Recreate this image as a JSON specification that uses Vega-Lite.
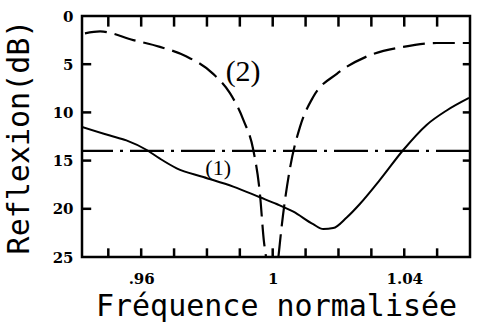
{
  "$schema": "https://vega.github.io/schema/vega-lite/v6.json",
  "width": 388,
  "height": 241,
  "autosize": "none",
  "padding": {"left": 82, "top": 16, "right": 31, "bottom": 70},
  "background": "white",
  "config": {
    "view": {"stroke": "black", "strokeWidth": 2.5},
    "axis": {
      "grid": false,
      "domain": false,
      "ticks": false,
      "labelColor": "black",
      "labelFont": "DejaVu Serif",
      "labelFontWeight": "bold",
      "labelFontSize": 15,
      "labelOverlap": false,
      "titleColor": "black",
      "titleFont": "DejaVu Sans Mono",
      "titleFontWeight": "normal",
      "titleFontSize": 30
    }
  },
  "datasets": {
    "curve1": [
      {"f": 0.942, "db": 11.5},
      {"f": 0.9505, "db": 12.4},
      {"f": 0.9555, "db": 12.9},
      {"f": 0.9617, "db": 13.9},
      {"f": 0.9657, "db": 14.8},
      {"f": 0.9708, "db": 15.8},
      {"f": 0.9789, "db": 16.7},
      {"f": 0.988, "db": 17.7},
      {"f": 0.9961, "db": 18.8},
      {"f": 1.0012, "db": 19.5},
      {"f": 1.0063, "db": 20.3},
      {"f": 1.0123, "db": 21.6},
      {"f": 1.0154, "db": 22.1},
      {"f": 1.0184, "db": 22.0},
      {"f": 1.0225, "db": 20.9},
      {"f": 1.0265, "db": 19.5},
      {"f": 1.0326, "db": 17.0},
      {"f": 1.0397, "db": 13.9},
      {"f": 1.0468, "db": 11.3},
      {"f": 1.0529, "db": 9.8},
      {"f": 1.0597, "db": 8.5}
    ],
    "curve2": [
      {"f": 0.9429, "db": 1.8},
      {"f": 0.9475, "db": 1.6},
      {"f": 0.9576, "db": 2.5},
      {"f": 0.9657, "db": 3.2},
      {"f": 0.9738, "db": 4.2},
      {"f": 0.9819, "db": 6.0},
      {"f": 0.987, "db": 8.0},
      {"f": 0.9911, "db": 10.8},
      {"f": 0.9941, "db": 13.9},
      {"f": 0.9961, "db": 18.4},
      {"f": 0.9973, "db": 23.3},
      {"f": 0.998, "db": 25.1},
      {"f": 0.9997, "db": 31.0},
      {"f": 1.0017, "db": 25.1},
      {"f": 1.0027, "db": 21.9},
      {"f": 1.0053, "db": 15.7},
      {"f": 1.0083, "db": 11.5},
      {"f": 1.0123, "db": 8.4},
      {"f": 1.0195, "db": 6.0},
      {"f": 1.0286, "db": 4.2},
      {"f": 1.0397, "db": 3.2},
      {"f": 1.0499, "db": 2.8},
      {"f": 1.0597, "db": 2.8}
    ],
    "threshold": [{"db": 14}],
    "freqTicks": [
      {"f": 0.95}, {"f": 0.96}, {"f": 0.97}, {"f": 0.98}, {"f": 0.99}, {"f": 1.0},
      {"f": 1.01}, {"f": 1.02}, {"f": 1.03}, {"f": 1.04}, {"f": 1.05}
    ],
    "dbTicks": [{"db": 5}, {"db": 10}, {"db": 15}, {"db": 20}],
    "tags": [
      {"f": 0.991, "db": 5.8, "tag": "(2)", "size": 30},
      {"f": 0.9834, "db": 15.8, "tag": "(1)", "size": 22}
    ]
  },
  "layer": [
    {
      "data": {"name": "curve1"},
      "mark": {"type": "line", "color": "black", "strokeWidth": 2, "interpolate": "monotone", "clip": true},
      "encoding": {
        "x": {
          "field": "f",
          "type": "quantitative",
          "scale": {"domain": [0.942, 1.06], "nice": false, "zero": false},
          "axis": {
            "title": "Fréquence normalisée",
            "values": [0.96, 1.0, 1.04],
            "labelExpr": "abs(datum.value - 0.96) < 1e-6 ? '.96' : abs(datum.value - 1) < 1e-6 ? '1' : '1.04'",
            "labelPadding": 14,
            "titlePadding": 5
          }
        },
        "y": {
          "field": "db",
          "type": "quantitative",
          "scale": {"domain": [0, 25], "nice": false, "zero": false, "reverse": true},
          "axis": {
            "title": "Reflexion(dB)",
            "values": [0, 5, 10, 15, 20, 25],
            "labelPadding": 9,
            "titlePadding": 18
          }
        }
      }
    },
    {
      "data": {"name": "curve2"},
      "mark": {"type": "line", "color": "black", "strokeWidth": 2.2, "strokeDash": [22, 8], "interpolate": "monotone", "clip": true},
      "encoding": {
        "x": {"field": "f", "type": "quantitative"},
        "y": {"field": "db", "type": "quantitative"}
      }
    },
    {
      "data": {"name": "threshold"},
      "mark": {"type": "rule", "color": "black", "strokeWidth": 2.2, "strokeDash": [34, 7, 3, 7]},
      "encoding": {
        "y": {"field": "db", "type": "quantitative"}
      }
    },
    {
      "description": "inward frequency ticks along the bottom edge",
      "data": {"name": "freqTicks"},
      "mark": {"type": "rule", "color": "black", "strokeWidth": 2.5},
      "encoding": {
        "x": {"field": "f", "type": "quantitative"},
        "y": {"datum": 25, "type": "quantitative"},
        "y2": {"datum": 24.1}
      }
    },
    {
      "description": "inward frequency ticks along the top edge",
      "data": {"name": "freqTicks"},
      "mark": {"type": "rule", "color": "black", "strokeWidth": 2.5},
      "encoding": {
        "x": {"field": "f", "type": "quantitative"},
        "y": {"datum": 0, "type": "quantitative"},
        "y2": {"datum": 1.1}
      }
    },
    {
      "description": "inward level ticks along the left edge",
      "data": {"name": "dbTicks"},
      "mark": {"type": "rule", "color": "black", "strokeWidth": 2.5},
      "encoding": {
        "y": {"field": "db", "type": "quantitative"},
        "x": {"datum": 0.942, "type": "quantitative"},
        "x2": {"datum": 0.9448}
      }
    },
    {
      "description": "inward level ticks along the right edge",
      "data": {"name": "dbTicks"},
      "mark": {"type": "rule", "color": "black", "strokeWidth": 2.5},
      "encoding": {
        "y": {"field": "db", "type": "quantitative"},
        "x": {"datum": 1.06, "type": "quantitative"},
        "x2": {"datum": 1.0578}
      }
    },
    {
      "data": {"name": "tags"},
      "mark": {"type": "text", "font": "Liberation Serif", "color": "black", "align": "center", "baseline": "middle"},
      "encoding": {
        "x": {"field": "f", "type": "quantitative"},
        "y": {"field": "db", "type": "quantitative"},
        "text": {"field": "tag"},
        "size": {"field": "size", "type": "quantitative", "scale": null}
      }
    }
  ]
}
